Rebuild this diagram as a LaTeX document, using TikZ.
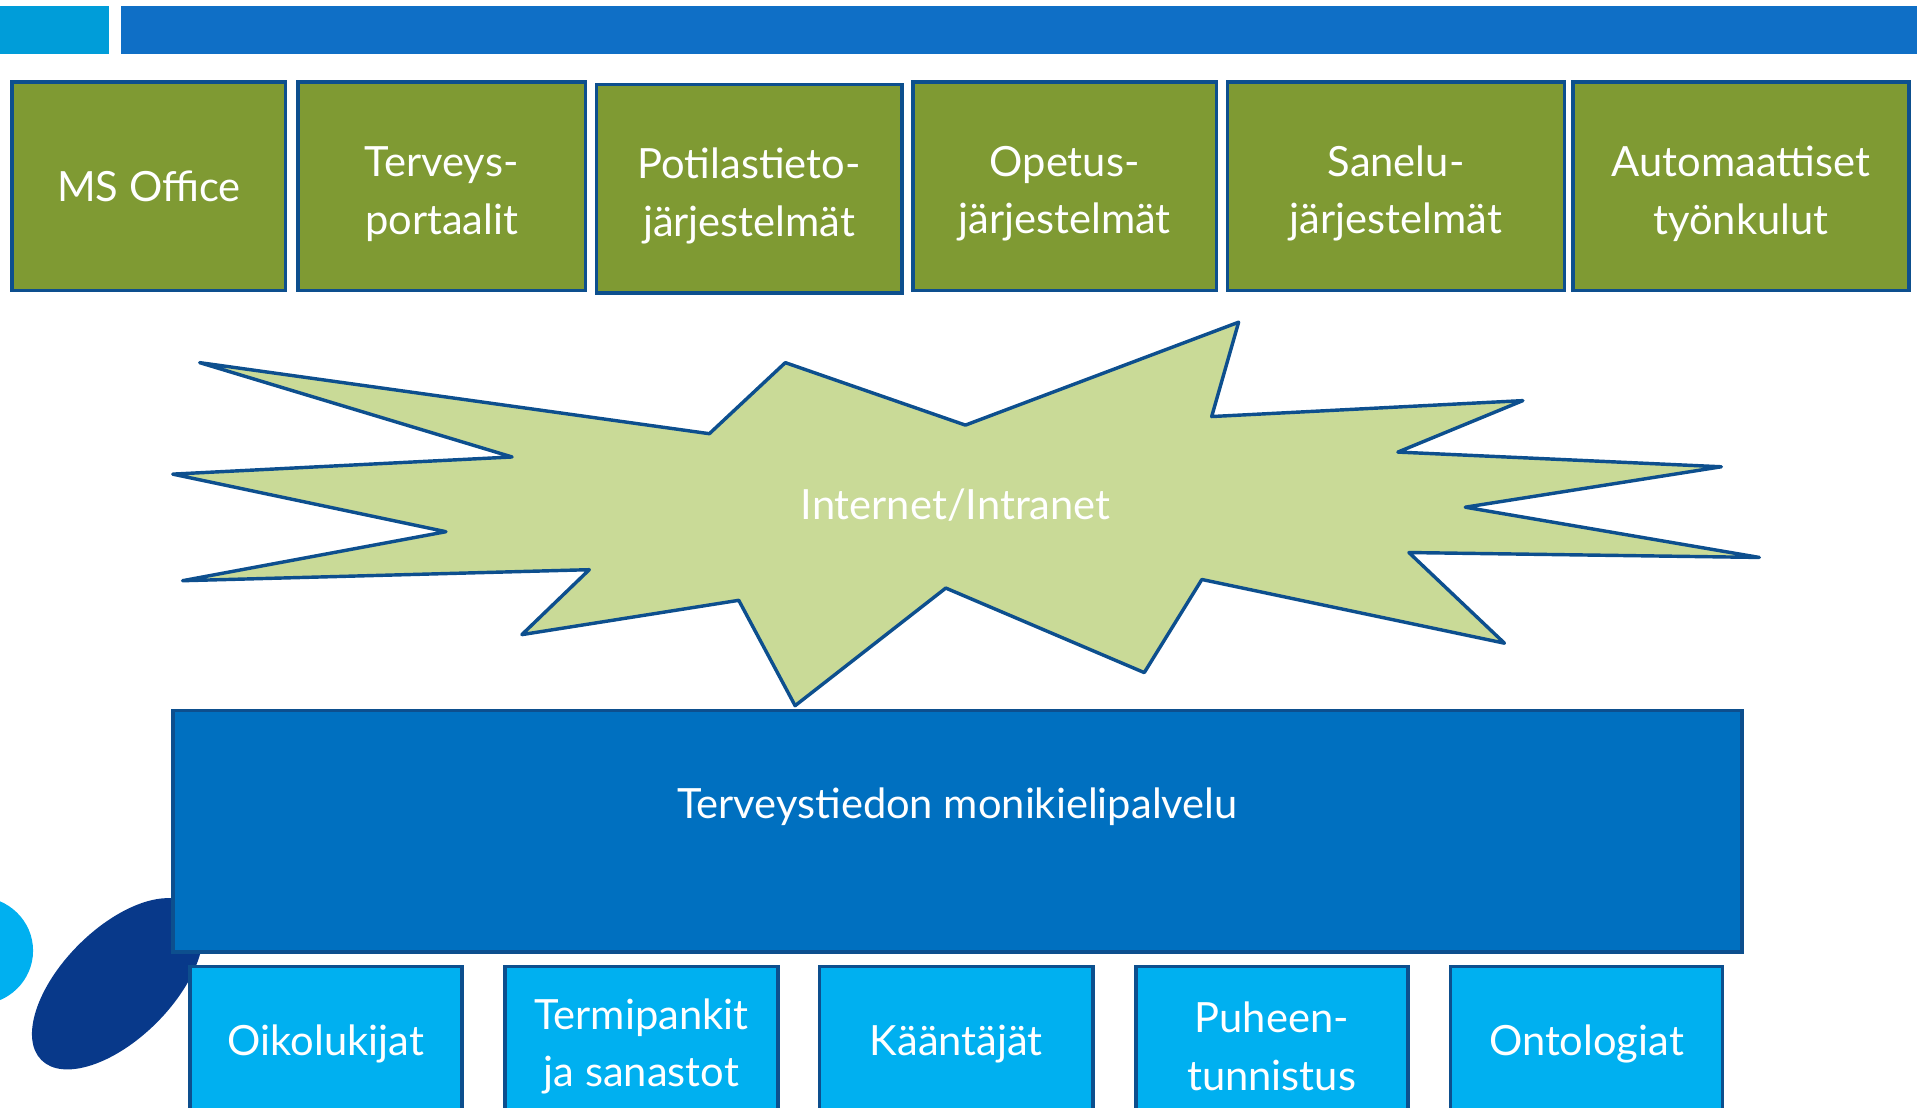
\documentclass[tikz,border=0pt]{standalone}
\usepackage{fontspec}
\setmainfont{Lato}
\definecolor{topcyan}{HTML}{009DD9}
\definecolor{topblue}{HTML}{0F6FC6}
\definecolor{edgeblue}{HTML}{0D4F8E}
\definecolor{appgreen}{HTML}{7F9A33}
\definecolor{netgreen}{HTML}{C9DA97}
\definecolor{coreblue}{HTML}{0070C0}
\definecolor{toolcyan}{HTML}{00B0F0}
\definecolor{blobblue}{HTML}{08398A}
\newcommand\topstrut[1][37pt]{\rule{0pt}{#1}}
\begin{document}
\begin{tikzpicture}[x=1pt,y=-1pt,
  label text/.style={text=white,align=center,font=\fontsize{34}{47}\selectfont},
  box/.style={draw=edgeblue,line width=3pt,inner sep=0pt,label text},
  app/.style={box,fill=appgreen,minimum height=170},
  tool/.style={box,fill=toolcyan,minimum height=122},
  netstar/.style={draw=edgeblue,fill=netgreen,line width=2.8pt,line join=round}]
\clip (0,0) rectangle (1568,904);
% top bars
\fill[topcyan] (0,5) rectangle (89,44);
\fill[topblue] (99,5) rectangle (1565,44);
% blobs at the lower left
\fill[toolcyan] (-18,776) ellipse[x radius=45,y radius=44];
\fill[blobblue,rotate around={45:(96,803)}] (96,803) ellipse[x radius=88,y radius=45];
% applications
\node[app,minimum width=223] (msoffice) at (121.5,152) {MS Office};
\node[app,minimum width=235] (portaalit) at (360.5,152) {\topstrut Terveys-\\portaalit};
\node[app,minimum width=249] (potilas) at (611.5,154) {\topstrut Potilastieto-\\järjestelmät};
\node[app,minimum width=248] (opetus) at (869,152) {\topstrut Opetus-\\järjestelmät};
\node[app,minimum width=275] (sanelu) at (1139.5,152) {\topstrut Sanelu-\\järjestelmät};
\node[app,minimum width=274] (tyonkulut) at (1421,152) {\topstrut Automaattiset\\työnkulut};
% network
\draw[netstar] (163,296) -- (579,354) -- (641,296) -- (788,347) -- (1011,263)
  -- (989,340) -- (1243,327) -- (1141,369) -- (1405,381) -- (1196,414)
  -- (1436,455) -- (1150,451) -- (1228,525) -- (981,473) -- (934,549)
  -- (772,480) -- (649,576) -- (603,490) -- (426,518) -- (481,465)
  -- (149,474) -- (364,434) -- (141,387) -- (418,373) -- cycle;
\node[label text] (net) at (780,412) {Internet/Intranet};
% service
\node[box,fill=coreblue,minimum width=1281,minimum height=197] (core) at (781.5,678.5) {};
\node[label text] (coretext) at ([yshift=20pt]core.center) {Terveystiedon monikielipalvelu};
% tools
\node[tool,minimum width=222] (oiko) at (266,850) {\topstrut[30pt]Oikolukijat};
\node[tool,minimum width=223] (termi) at (523.5,850) {\topstrut[33pt]Termipankit\\ja sanastot};
\node[tool,minimum width=223] (kaant) at (780.5,850) {\topstrut[30pt]Kääntäjät};
\node[tool,minimum width=222] (puhe) at (1038,850) {\topstrut[33pt]Puheen-\\tunnistus};
\node[tool,minimum width=222] (onto) at (1295,850) {\topstrut[30pt]Ontologiat};
\end{tikzpicture}
\end{document}
